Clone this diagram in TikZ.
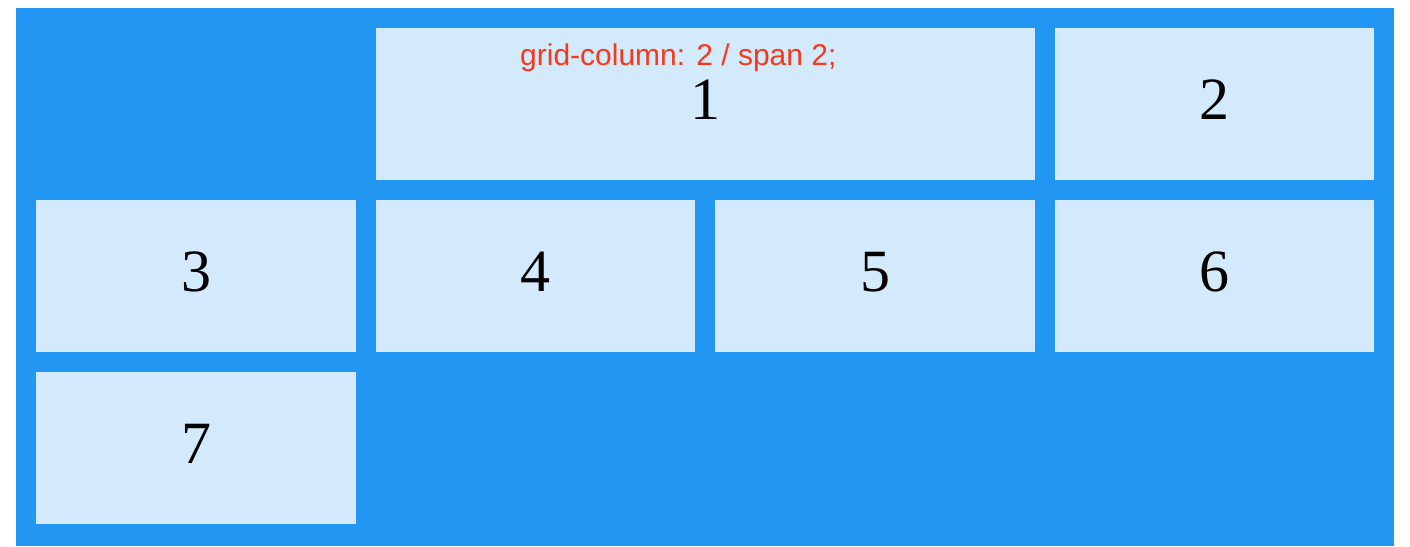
\documentclass[tikz,border=0pt]{standalone}
\usepackage{fontspec}
\setmainfont{Liberation Serif}
\newfontfamily\labelfont{Liberation Sans}
\usetikzlibrary{positioning}

\definecolor{gridblue}{RGB}{33,150,243}
\definecolor{cellblue}{RGB}{211,234,253}
\definecolor{notered}{RGB}{250,55,25}

\tikzset{
    cell/.style={fill=cellblue, inner sep=0pt, minimum height=152pt,
        font=\fontsize{60}{69}\selectfont, text height=40pt, text depth=10pt},
    note/.style={font=\labelfont\fontsize{30}{34}\selectfont, text=notered,
        inner sep=0pt, anchor=base west}
}

\begin{document}
\begin{tikzpicture}[x=1pt,y=-1pt]
    \useasboundingbox (0,0) rectangle (1410,546);

    % Grid container
    \fill[gridblue] (16,8) rectangle (1394,546);

    % First row
    \node[cell, minimum width=659pt] (one) at (705.5,104) {1};
    \node[cell, minimum width=319pt] (two) at (1214.5,104) {2};

    % Second row
    \node[cell, minimum width=320pt] (three) at (196,276) {3};
    \node[cell, minimum width=319pt] (four) at (535.5,276) {4};
    \node[cell, minimum width=320pt] (five) at (875,276) {5};
    \node[cell, minimum width=319pt] (six) at (1214.5,276) {6};

    % Third row
    \node[cell, minimum width=320pt] (seven) at (196,448) {7};

    % Label of the spanning item
    \node[note] (span) at (520,65) {grid-column: 2 / span 2;};
\end{tikzpicture}
\end{document}
